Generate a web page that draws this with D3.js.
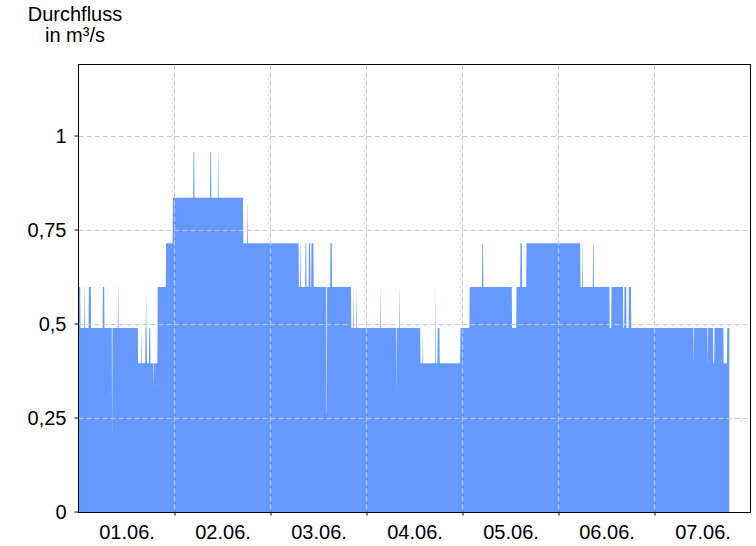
<!DOCTYPE html>
<html>
<head>
<meta charset="utf-8">
<script src="https://cdn.jsdelivr.net/npm/d3@7"></script>
<style>
  html, body { margin: 0; padding: 0; background: #fff; }
  svg { display: block; font-family: "Liberation Sans", Arial, sans-serif; }
</style>
</head>
<body>
<svg id="chart" width="756" height="546"></svg>
<script>
// ---- data (hours since 01.06. 00:00, discharge in m³/s) ----
const runStartH = [
  0, 0.5, 1.5, 1.62, 2.6, 3.15, 6.1, 6.5, 8.4, 8.5, 9.9, 10.02,
  14.9, 15.75, 15.85, 16.75, 16.9, 16.98, 17.1, 17.7, 18.0, 18.8, 18.88,
  19.8, 21.9, 23.6, 28.75, 29.0, 32.95, 33.2, 34.9, 35.02,
  41.2, 42.25, 42.37, 55.1, 55.45, 55.6, 56.75, 57.0, 57.6, 58.0, 58.25, 58.8,
  61.95, 62.1, 63.0, 63.4, 68.2, 68.7, 68.8, 69.5, 69.6,
  75.5, 75.6, 79.5, 79.6, 80.2, 80.3, 85.5, 86.1, 86.18, 89.3, 89.4, 89.8, 90.3,
  95.5, 97.8, 100.95, 101.2, 108.4, 109.5, 110.5, 110.9, 112.0,
  125.5, 126.0, 126.12, 128.65, 128.85, 132.8, 133.25, 136.2, 136.5, 137.0, 137.6, 138.2,
  153.8, 153.9, 157.3, 157.4, 158.7, 159.0, 161.3, 162.2
];
const runValue = [
  0.6, 0.491, 0.6, 0.491, 0.6, 0.491, 0.6, 0.491, 0.208, 0.491, 0.6, 0.491,
  0.397, 0.491, 0.397, 0.491, 0.587, 0.491, 0.397, 0.491, 0.397, 0.33, 0.397,
  0.6, 0.716, 0.837, 0.959, 0.837, 0.959, 0.837, 0.959, 0.837,
  0.716, 0.82, 0.716, 0.6, 0.716, 0.6, 0.716, 0.6, 0.716, 0.6, 0.716, 0.6,
  0.265, 0.6, 0.716, 0.6, 0.491, 0.6, 0.491, 0.6, 0.491,
  0.6, 0.491, 0.327, 0.491, 0.6, 0.491, 0.397, 0.491, 0.397, 0.6, 0.397, 0.491, 0.397,
  0.491, 0.6, 0.716, 0.6, 0.491, 0.6, 0.716, 0.6, 0.716,
  0.6, 0.716, 0.6, 0.716, 0.6, 0.491, 0.6, 0.491, 0.6, 0.491, 0.6, 0.491,
  0.397, 0.491, 0.397, 0.491, 0.397, 0.491, 0.397, 0.491
];
const seriesEndH = 162.7;
const yTickValues = [0, 0.25, 0.5, 0.75, 1];
const dayLabels = ["01.06.", "02.06.", "03.06.", "04.06.", "05.06.", "06.06.", "07.06."];
const titleLines = ["Durchfluss", "in m³/s"];

(function () {
// ---- layout ----
const pL = 78.5, pR = 750.5, pT = 64.5, pB = 512.5;
const t0 = new Date(2024, 5, 1, 0, 0, 0);
const hourToDate = h => new Date(t0.getTime() + h * 3600e3);
const tEnd = new Date(2024, 5, 8, 0, 0, 0);

const x = d3.scaleTime().domain([t0, tEnd]).range([pL, pR]);
const y = d3.scaleLinear().domain([0, 1]).range([pB, 136.5]);

// build sample points from runs (5-min transitions)
const eps = 1 / 12;
const pts = [];
for (let i = 0; i < runStartH.length; i++) {
  const s = runStartH[i];
  const e = i + 1 < runStartH.length ? runStartH[i + 1] : seriesEndH;
  pts.push({ t: hourToDate(s), v: runValue[i] });
  const e2 = (i + 1 < runStartH.length) ? Math.max(s, e - eps) : e;
  if (e2 > s) pts.push({ t: hourToDate(e2), v: runValue[i] });
}

const svg = d3.select("#chart");

svg.append("clipPath").attr("id", "clip")
  .append("rect").attr("x", pL).attr("y", pT).attr("width", pR - pL).attr("height", pB - pT);

const area = d3.area()
  .x(d => x(d.t))
  .y0(y(0))
  .y1(d => y(d.v))
  .curve(d3.curveLinear);

svg.append("path")
  .datum(pts)
  .attr("clip-path", "url(#clip)")
  .attr("fill", "#6699ff")
  .attr("d", area);

// grid lines
const grid = svg.append("g").attr("stroke", "#c8c8c8").attr("stroke-dasharray", "5,3").attr("stroke-width", 1);
yTickValues.filter(v => v > 0).forEach(v => {
  const yy = Math.round(y(v)) - 0.5;
  grid.append("line").attr("x1", pL).attr("x2", pR).attr("y1", yy).attr("y2", yy);
});
const dayBounds = d3.timeDay.range(d3.timeDay.offset(t0, 1), tEnd);
dayBounds.forEach(d => {
  grid.append("line").attr("x1", x(d)).attr("x2", x(d)).attr("y1", pT).attr("y2", pB);
});

// frame
svg.append("rect")
  .attr("x", pL).attr("y", pT).attr("width", pR - pL).attr("height", pB - pT)
  .attr("fill", "none").attr("stroke", "#000").attr("stroke-width", 1);

// y axis
const loc = d3.formatLocale({ decimal: ",", thousands: ".", grouping: [3], currency: ["", "€"] });
const yAxis = d3.axisLeft(y).tickValues(yTickValues).tickSize(4).tickPadding(8).tickFormat(loc.format("~g"));
const gy = svg.append("g").attr("transform", `translate(${pL},-1)`).call(yAxis);
gy.select(".domain").remove();
gy.selectAll("text").attr("font-size", 20).attr("font-family", "Liberation Sans, Arial, sans-serif").attr("fill", "#000").attr("dy", "0.36em");
gy.selectAll("line").attr("stroke", "#000");

// x axis: ticks at day boundaries
const xAxis = d3.axisBottom(x).tickValues(dayBounds).tickSize(3).tickFormat("");
const gx = svg.append("g").attr("transform", `translate(0,${pB})`).call(xAxis);
gx.select(".domain").remove();
gx.selectAll("line").attr("stroke", "#000");

// x labels at day centers
const dayCenters = d3.timeDay.range(t0, tEnd).map(d => d3.timeHour.offset(d, 12));
const xLab = d3.axisBottom(x).tickValues(dayCenters).tickSize(0).tickPadding(12)
  .tickFormat((d, i) => dayLabels[i]);
const gxl = svg.append("g").attr("transform", `translate(0,${pB})`).call(xLab);
gxl.select(".domain").remove();
gxl.selectAll("text").attr("font-size", 20).attr("font-family", "Liberation Sans, Arial, sans-serif").attr("fill", "#000");

// title
svg.append("text").attr("x", 75).attr("y", 21).attr("text-anchor", "middle")
  .attr("font-size", 20).attr("fill", "#000").text(titleLines[0]);
svg.append("text").attr("x", 75).attr("y", 42).attr("text-anchor", "middle")
  .attr("font-size", 20).attr("fill", "#000").text(titleLines[1]);
})();
</script>
</body>
</html>
